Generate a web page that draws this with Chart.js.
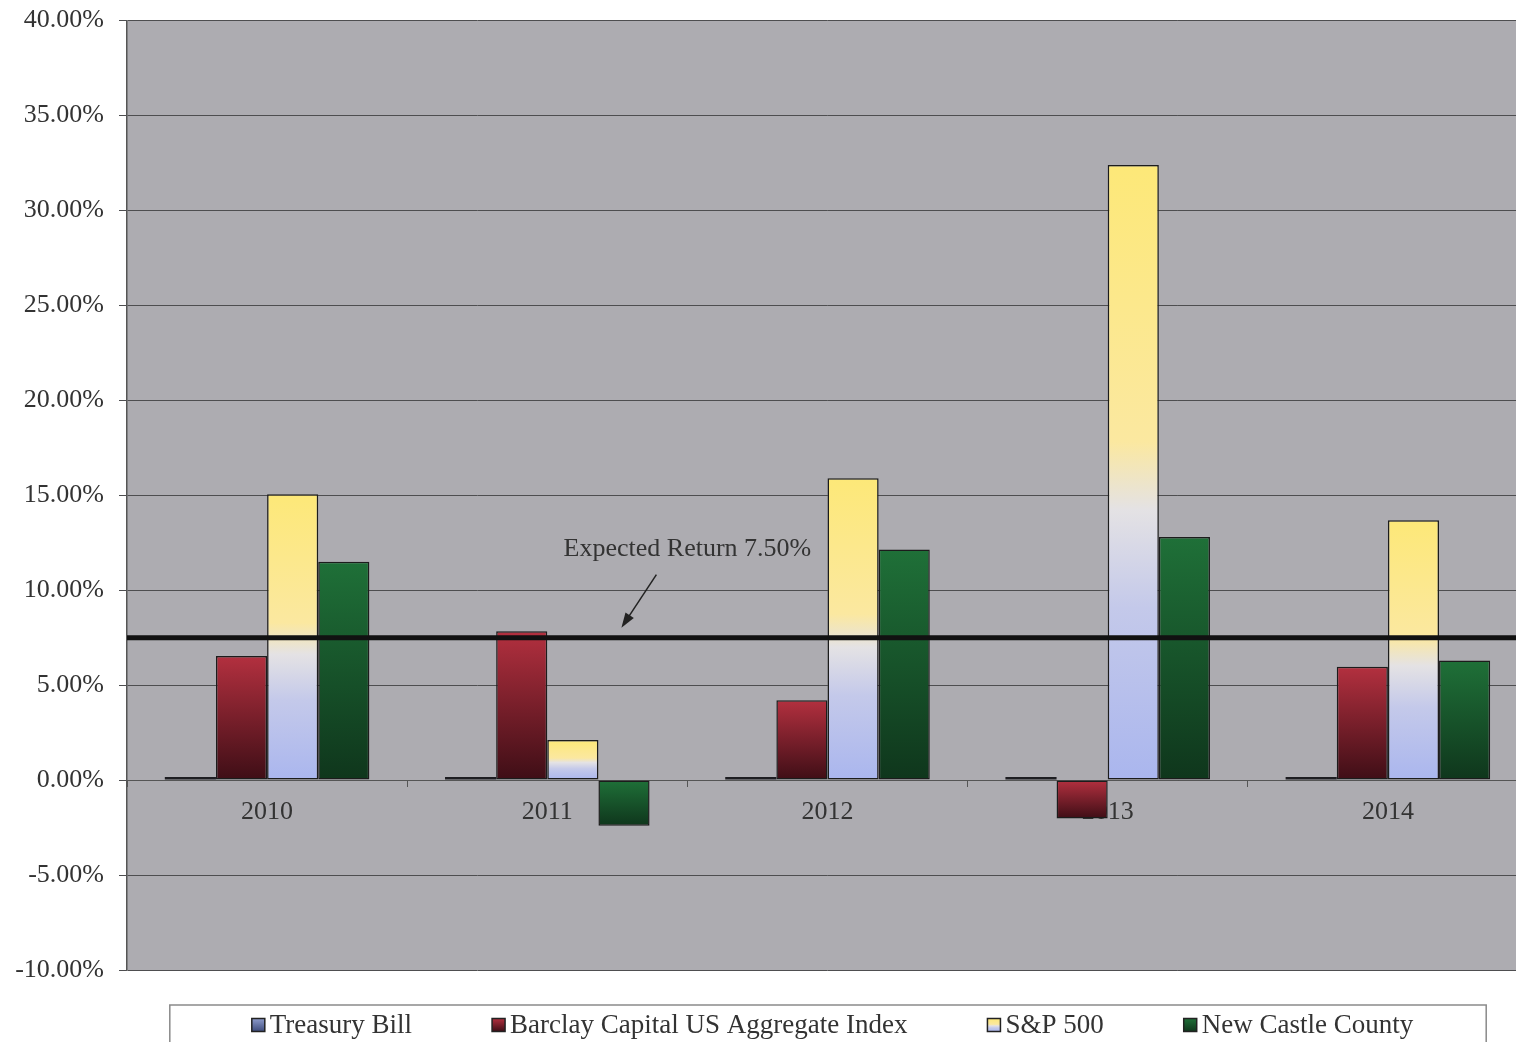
<!DOCTYPE html>
<html>
<head>
<meta charset="utf-8">
<title>Annual Returns</title>
<script src="https://cdn.jsdelivr.net/npm/chart.js@4.4.1/dist/chart.umd.min.js"></script>
<style>
  html, body { margin: 0; padding: 0; background: #fff; overflow: hidden; }
  #wrap { width: 1528px; height: 1042px; overflow: hidden; }
  #returnsChart { display: block; margin-top: -10px; }
</style>
</head>
<body>
<div id="wrap"><canvas id="returnsChart" width="1528" height="1052"></canvas></div>
<script>
// chart data
var years = ['2010', '2011', '2012', '2013', '2014'];
var seriesNames = ['Treasury Bill', 'Barclay Capital US Aggregate Index', 'S&P 500', 'New Castle County'];
var treasuryBill = [0.13, 0.03, 0.05, 0.03, 0.02];
var barclayAgg = [6.54, 7.84, 4.21, -2.02, 5.97];
var sp500 = [15.06, 2.11, 15.9, 32.39, 13.69];
var newCastle = [11.5, -2.4, 12.15, 12.8, 6.3];
var expectedReturn = 7.5;
var expectedLabel = 'Expected Return 7.50%';
var yMin = -10, yMax = 40, yStep = 5;

var serif = "'Liberation Serif', 'Times New Roman', serif";
var textColor = '#333';

// gradient stops for each series (top -> bottom)
var gradients = [
  [[0, '#8e9ccc'], [1, '#3d4b7c']],
  [[0, '#b3303f'], [1, '#3e0e16']],
  [[0, '#fde878'], [0.45, '#fbe8a0'], [0.56, '#e4e2e4'], [0.72, '#c4c9ea'], [1, '#aab6ee']],
  [[0, '#1f7038'], [1, '#0f361c']]
];

function makeGradient(ctx, y1, y2, stops) {
  var g = ctx.createLinearGradient(0, y1, 0, y2);
  stops.forEach(function(s) { g.addColorStop(s[0], s[1]); });
  return g;
}

function barFill(index) {
  return function(context) {
    var chart = context.chart;
    var stops = gradients[index];
    if (!chart.chartArea || context.type !== 'data') return stops[0][1];
    var v = context.parsed.y;
    var y = chart.scales.y;
    var top = y.getPixelForValue(Math.max(v, 0));
    var bottom = y.getPixelForValue(Math.min(v, 0));
    if (bottom - top < 1) bottom = top + 1;
    return makeGradient(chart.ctx, top, bottom, stops);
  };
}

// grey plot area
var plotBackground = {
  id: 'plotBackground',
  beforeDraw: function(chart) {
    var a = chart.chartArea, ctx = chart.ctx;
    ctx.save();
    ctx.fillStyle = '#adacb1';
    ctx.fillRect(a.left, a.top, a.right - a.left, a.bottom - a.top);
    ctx.restore();
  }
};

// expected return line with label and arrow
var expectedLine = {
  id: 'expectedLine',
  afterDatasetsDraw: function(chart) {
    var a = chart.chartArea, ctx = chart.ctx;
    var yPx = chart.scales.y.getPixelForValue(expectedReturn);
    var xMid = (chart.scales.x.getPixelForValue(1) + chart.scales.x.getPixelForValue(2)) / 2;
    ctx.save();
    ctx.strokeStyle = '#111';
    ctx.lineWidth = 5;
    ctx.beginPath();
    ctx.moveTo(a.left, yPx);
    ctx.lineTo(a.right, yPx);
    ctx.stroke();

    ctx.fillStyle = textColor;
    ctx.font = '26px ' + serif;
    ctx.textAlign = 'center';
    ctx.textBaseline = 'middle';
    ctx.fillText(expectedLabel, xMid, yPx - 89);

    // arrow
    var x0 = xMid - 31, y0 = yPx - 63;
    var x1 = xMid - 66, y1 = yPx - 10;
    var ang = Math.atan2(y1 - y0, x1 - x0);
    ctx.strokeStyle = '#222';
    ctx.lineWidth = 1.5;
    ctx.beginPath();
    ctx.moveTo(x0, y0);
    ctx.lineTo(x1 - 10 * Math.cos(ang), y1 - 10 * Math.sin(ang));
    ctx.stroke();
    ctx.fillStyle = '#222';
    ctx.beginPath();
    ctx.moveTo(x1, y1);
    ctx.lineTo(x1 - 15 * Math.cos(ang) + 5 * Math.sin(ang), y1 - 15 * Math.sin(ang) - 5 * Math.cos(ang));
    ctx.lineTo(x1 - 15 * Math.cos(ang) - 5 * Math.sin(ang), y1 - 15 * Math.sin(ang) + 5 * Math.cos(ang));
    ctx.closePath();
    ctx.fill();
    ctx.restore();
  }
};

// boxed legend at the bottom
var boxLegend = {
  id: 'boxLegend',
  afterDraw: function(chart) {
    var a = chart.chartArea, ctx = chart.ctx;
    var sq = 13, gapText = 5, gapItem = 80;
    ctx.save();
    ctx.font = '27px ' + serif;
    var widths = seriesNames.map(function(n) { return sq + gapText + ctx.measureText(n).width; });
    var total = widths.reduce(function(s, w) { return s + w; }, 0) + gapItem * (widths.length - 1);
    var x = (a.left + a.right) / 2 - total / 2 + 5;
    var boxTop = a.bottom + 35;
    var cy = a.bottom + 55;

    ctx.fillStyle = '#fff';
    ctx.strokeStyle = '#8a8a8a';
    ctx.lineWidth = 1.5;
    ctx.fillRect(x - 82, boxTop, total + 155, 50);
    ctx.strokeRect(x - 82, boxTop, total + 155, 50);

    ctx.textBaseline = 'middle';
    ctx.textAlign = 'left';
    seriesNames.forEach(function(name, i) {
      ctx.fillStyle = makeGradient(ctx, cy - sq / 2, cy + sq / 2, gradients[i]);
      ctx.fillRect(x, cy - sq / 2, sq, sq);
      ctx.strokeStyle = '#222';
      ctx.lineWidth = 1.5;
      ctx.strokeRect(x, cy - sq / 2, sq, sq);
      ctx.fillStyle = textColor;
      ctx.fillText(name, x + sq + gapText, cy + 1);
      x += widths[i] + gapItem;
    });
    ctx.restore();
  }
};

var allSeries = [treasuryBill, barclayAgg, sp500, newCastle];
var datasets = allSeries.map(function(values, i) {
  var ds = {
    label: seriesNames[i],
    data: values,
    backgroundColor: barFill(i),
    borderColor: '#1c1c1c',
    borderWidth: 1.5,
    borderSkipped: false,
    barPercentage: 1,
    categoryPercentage: 0.73
  };
  if (i === 0) {
    // tiny T-bill returns show as a dark sliver on the zero line
    ds.backgroundColor = '#1e1e22';
    ds.borderWidth = 0;
    ds.minBarLength = 3;
  }
  return ds;
});

Chart.defaults.font.family = serif;
Chart.defaults.color = textColor;

var ctx = document.getElementById('returnsChart').getContext('2d');
var myChart = new Chart(ctx, {
  type: 'bar',
  data: { labels: years, datasets: datasets },
  plugins: [plotBackground, expectedLine, boxLegend],
  options: {
    responsive: false,
    animation: false,
    layout: { padding: { top: 10, bottom: 72, left: 0, right: 0 } },
    plugins: {
      legend: { display: false },
      tooltip: { enabled: false }
    },
    scales: {
      x: {
        position: { y: 0 },
        z: -1,
        grid: { display: true, drawOnChartArea: false, tickLength: 6, color: '#555' },
        border: { display: true, color: '#555', width: 1 },
        ticks: { font: { size: 26 }, color: textColor, padding: 10 }
      },
      y: {
        min: yMin,
        max: yMax,
        afterFit: function(scale) { scale.width = 127; },
        grid: { color: '#4e4e50', lineWidth: 1, tickLength: 8 },
        border: { display: true, color: '#555', width: 1.5 },
        ticks: {
          stepSize: yStep,
          padding: 15,
          font: { size: 26 },
          color: textColor,
          callback: function(v) { return v.toFixed(2) + '%'; }
        }
      }
    }
  }
});
</script>
</body>
</html>
